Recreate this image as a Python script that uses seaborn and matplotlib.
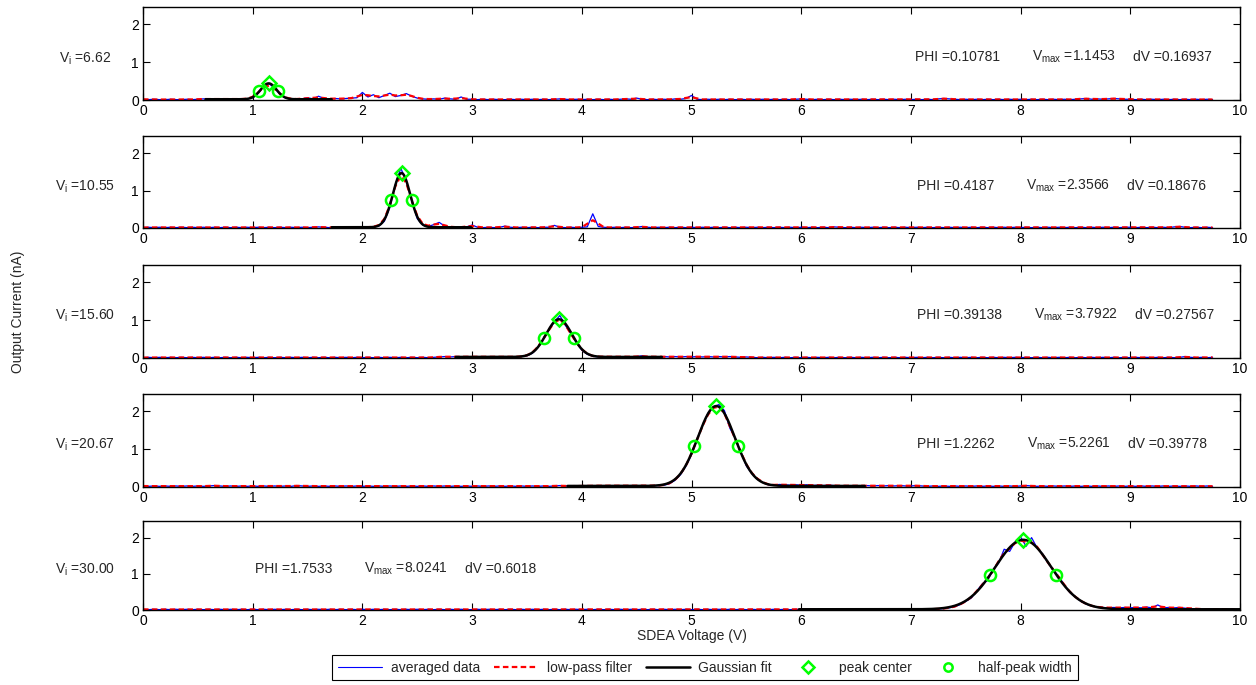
import numpy as np
import pandas as pd
import matplotlib
matplotlib.use("Agg")
import matplotlib.pyplot as plt
import matplotlib.transforms as mtransforms
from matplotlib.lines import Line2D
import seaborn as sns

# ---------------- data ----------------
V_STEP = 0.05  # sample spacing of the averaged data (V)

vi_values = [6.62, 10.55, 15.60, 20.67, 30.00]
phi_values = ["0.10781", "0.4187", "0.39138", "1.2262", "1.7533"]
vmax_values = [1.1453, 2.3566, 3.7922, 5.2261, 8.0241]
vmax_text = ["1.1453", "2.3566", "3.7922", "5.2261", "8.0241"]
dv_values = [0.16937, 0.18676, 0.27567, 0.39778, 0.6018]
dv_text = ["0.16937", "0.18676", "0.27567", "0.39778", "0.6018"]
fit_amplitude = [0.42, 1.45, 1.00, 2.12, 1.92]
fit_offset = [0.02, 0.02, 0.02, 0.02, 0.02]

avg_vi_6_62 = [
    .02, .01, .02, .01, .01, .02, .01, .01, .02, .01, .02, .03, .02, .03, .02, .03, .02, .03, .02, .03,
    .06, .19, .36, .43, .31, .14, .05, .03, .02, .03, .06, .03, .10, .04, .03, .04, .03, .04, .05, .06,
    .20, .08, .14, .06, .12, .18, .09, .12, .17, .10, .05, .03, .02, .03, .02, .05, .03, .02, .08, .02,
    .02, .01, .02, .01, .02, .01, .01, .02, .01, .02, .01, .02, .01, .02, .01, .02, .03, .02, .01, .02,
    .01, .02, .01, .02, .01, .02, .01, .02, .03, .02, .05, .02, .01, .02, .01, .02, .01, .03, .02, .04,
    .12, .02, .01, .02, .01, .02, .01, .02, .01, .02, .01, .02, .01, .02, .01, .02, .01, .02, .01, .02,
    .03, .02, .01, .02, .01, .02, .01, .02, .01, .02, .01, .02, .01, .02, .01, .02, .01, .02, .01, .02,
    .01, .02, .01, .02, .01, .03, .04, .03, .02, .01, .02, .01, .02, .01, .02, .01, .02, .01, .02, .01,
    .02, .01, .02, .01, .02, .01, .02, .01, .02, .01, .02, .03, .04, .02, .03, .02, .03, .04, .03, .02,
    .02, .01, .02, .01, .02, .01, .02, .01, .02, .01, .02, .01, .02, .01, .02, .01,
]
avg_vi_10_55 = [
    .01, .02, .01, .02, .01, .02, .01, .02, .01, .02, .01, .02, .01, .02, .01, .02, .01, .02, .01, .02,
    .01, .02, .01, .02, .01, .02, .01, .02, .01, .02, .01, .02, .03, .02, .01, .02, .01, .02, .01, .02,
    .02, .02, .03, .05, .18, .55, 1.15, 1.60, 1.25, .72, .25, .08, .04, .09, .15, .05, .03, .02, .02, .03,
    .08, .02, .01, .02, .01, .02, .05, .02, .01, .02, .01, .02, .01, .02, .02, .07, .02, .01, .02, .01,
    .02, .03, .38, .04, .02, .01, .02, .01, .02, .01, .02, .04, .02, .01, .02, .01, .02, .01, .02, .01,
    .02, .01, .02, .01, .02, .01, .02, .01, .02, .01, .02, .01, .02, .01, .02, .01, .02, .01, .02, .01,
    .02, .01, .02, .01, .02, .01, .03, .02, .01, .02, .01, .02, .01, .02, .01, .02, .01, .02, .01, .02,
    .01, .02, .01, .02, .01, .02, .01, .02, .01, .02, .01, .02, .01, .02, .01, .02, .01, .02, .01, .02,
    .01, .02, .01, .02, .01, .02, .01, .02, .01, .02, .01, .02, .01, .02, .01, .02, .01, .02, .01, .02,
    .02, .01, .02, .01, .02, .01, .02, .01, .03, .04, .02, .01, .02, .01, .02, .01,
]
avg_vi_15_60 = [
    .00, .01, .00, .01, .00, .01, .00, .01, .00, .01, .00, .01, .00, .01, .00, .01, .00, .01, .00, .01,
    .00, .01, .00, .01, .00, .01, .00, .01, .00, .01, .00, .01, .00, .01, .00, .01, .00, .01, .00, .01,
    .00, .01, .00, .01, .00, .01, .00, .01, .00, .01, .00, .01, .00, .01, .02, .03, .02, .03, .02, .03,
    .02, .03, .02, .03, .02, .02, .03, .02, .02, .03, .05, .12, .27, .50, .74, .95, 1.12, .86, .64, .40,
    .20, .09, .04, .02, .03, .02, .03, .02, .03, .02, .03, .05, .02, .03, .02, .03, .02, .03, .02, .03,
    .02, .03, .02, .03, .02, .03, .02, .03, .02, .01, .02, .01, .00, .01, .00, .01, .00, .01, .00, .01,
    .00, .01, .00, .01, .00, .01, .00, .01, .00, .01, .00, .01, .00, .01, .00, .01, .00, .01, .00, .01,
    .00, .01, .00, .01, .00, .01, .00, .01, .00, .01, .00, .01, .00, .01, .00, .01, .00, .01, .00, .01,
    .00, .01, .00, .01, .00, .01, .00, .01, .00, .01, .00, .01, .00, .01, .00, .01, .00, .01, .00, .01,
    .00, .01, .00, .01, .00, .01, .00, .01, .00, .01, .03, .01, .00, .01, .00, .01,
]
avg_vi_20_67 = [
    .02, .01, .02, .01, .02, .01, .02, .01, .02, .01, .02, .01, .02, .03, .02, .01, .02, .01, .02, .01,
    .02, .01, .02, .01, .02, .01, .02, .01, .03, .02, .01, .02, .01, .02, .01, .02, .01, .02, .01, .02,
    .01, .02, .01, .02, .01, .02, .01, .02, .01, .02, .01, .02, .01, .02, .01, .02, .01, .02, .01, .02,
    .01, .02, .01, .02, .01, .02, .01, .02, .01, .02, .01, .02, .01, .02, .01, .02, .03, .02, .01, .02,
    .02, .03, .02, .03, .02, .03, .02, .03, .02, .03, .02, .03, .02, .03, .03, .04, .08, .17, .32, .55,
    .85, 1.25, 1.62, 1.95, 2.12, 2.18, 2.02, 1.55, 1.28, .92, .55, .35, .20, .11, .05, .04, .06, .05, .04, .05,
    .04, .05, .03, .04, .03, .04, .03, .02, .03, .02, .03, .02, .03, .02, .03, .02, .03, .02, .03, .02,
    .02, .03, .02, .01, .02, .01, .02, .01, .02, .01, .02, .01, .02, .01, .02, .01, .02, .01, .02, .01,
    .02, .03, .02, .01, .02, .01, .02, .01, .02, .01, .02, .01, .02, .01, .02, .01, .02, .01, .02, .01,
    .02, .01, .02, .01, .02, .01, .02, .01, .02, .01, .02, .01, .02, .01, .02, .01,
]
avg_vi_30_00 = [
    .02, .01, .02, .01, .02, .01, .02, .01, .02, .01, .02, .01, .02, .01, .02, .01, .02, .01, .02, .01,
    .02, .01, .02, .01, .02, .01, .02, .01, .02, .01, .02, .01, .02, .01, .02, .01, .02, .01, .02, .01,
    .02, .01, .02, .01, .02, .01, .02, .01, .02, .01, .02, .01, .02, .01, .02, .01, .02, .01, .02, .01,
    .01, .02, .01, .02, .01, .02, .01, .02, .01, .02, .01, .02, .01, .02, .01, .02, .01, .02, .01, .02,
    .01, .02, .01, .02, .01, .02, .01, .02, .01, .02, .01, .02, .01, .02, .01, .02, .01, .02, .01, .02,
    .01, .02, .01, .02, .01, .02, .01, .02, .01, .02, .01, .02, .01, .02, .01, .02, .01, .02, .01, .02,
    .01, .02, .01, .02, .01, .02, .01, .02, .01, .02, .01, .02, .01, .02, .01, .02, .01, .02, .01, .02,
    .01, .02, .01, .02, .02, .03, .04, .06, .09, .15, .24, .33, .52, .72, .82, 1.12, 1.30, 1.68, 1.62, 1.88,
    2.02, 1.76, 2.00, 1.72, 1.55, 1.30, 1.10, .92, .68, .48, .36, .24, .16, .11, .08, .07, .06, .07, .06, .07,
    .06, .07, .06, .08, .06, .14, .06, .07, .06, .07, .05, .04, .03, .02, .03, .02, .02, .02, .02, .02,
]
averaged_data = [avg_vi_6_62, avg_vi_10_55, avg_vi_15_60, avg_vi_20_67, avg_vi_30_00]

# ---------------- layout / style ----------------
FIG_W, FIG_H = 1256, 685
AX_LEFT, AX_RIGHT = 143, 1240
AX_TOPS = [7, 136, 265, 394, 521]
AX_BOTTOMS = [100, 228, 357.7, 486.7, 610]
PHI_X_PX = [915, 917, 917, 917, 255]
GAP1_PX, GAP2_PX = 32, 17
TEXT_Y = 1.13
GREEN = "#00ff00"

sns.set_theme(style="ticks")
plt.rcParams["font.family"] = ["Liberation Sans", "DejaVu Sans"]
plt.rcParams["mathtext.fontset"] = "custom"
plt.rcParams["mathtext.rm"] = "Liberation Sans"
plt.rcParams["mathtext.it"] = "Liberation Sans:italic"

fig = plt.figure(figsize=(FIG_W / 100, FIG_H / 100), dpi=100)
fig.patch.set_facecolor("white")
renderer = fig.canvas.get_renderer()


def px_to_x(px):
    return (px - AX_LEFT) / (AX_RIGHT - AX_LEFT) * 10.0


for i in range(5):
    top, bot = AX_TOPS[i], AX_BOTTOMS[i]
    ax = fig.add_axes([AX_LEFT / FIG_W, 1 - bot / FIG_H,
                       (AX_RIGHT - AX_LEFT) / FIG_W, (bot - top) / FIG_H])
    ax.set_facecolor("white")
    vals = np.array(averaged_data[i], dtype=float)
    xs = np.arange(len(vals)) * V_STEP
    # low-pass filter derived from the averaged data
    lp = np.convolve(np.pad(vals, 1, mode="edge"), [0.25, 0.5, 0.25], mode="valid")

    # Gaussian fit from the fit parameters (center = Vmax, FWHM = dV)
    c, w, a, off = vmax_values[i], dv_values[i], fit_amplitude[i], fit_offset[i]
    xf = np.arange(round((c - 3.4 * w) * 100), round((c + 3.4 * w) * 100) + 1) / 100.0
    yf = a * np.exp(-4 * np.log(2) * (xf - c) ** 2 / w ** 2) + off

    df = pd.DataFrame({"V": xs, "avg": vals, "lp": lp})
    sns.lineplot(data=df, x="V", y="avg", ax=ax, color="#0000ff", lw=0.9,
                 estimator=None, sort=False, legend=False)
    sns.lineplot(data=df, x="V", y="lp", ax=ax, color="#ff0000", lw=1.6,
                 estimator=None, sort=False, legend=False)
    ax.lines[-1].set_dashes([2.5, 1.5])
    sns.lineplot(x=xf, y=yf, ax=ax, color="black", lw=1.8,
                 estimator=None, sort=False, legend=False)
    pk = pd.DataFrame({"V": [c], "I": [a + off]})
    hw = pd.DataFrame({"V": [c - w / 2, c + w / 2], "I": [a / 2 + off, a / 2 + off]})
    ax.plot(hw["V"], hw["I"], linestyle="none", marker="o", ms=8, mfc="none",
            mec=GREEN, mew=1.8, zorder=5)
    ax.plot(pk["V"], pk["I"], linestyle="none", marker="D", ms=7, mfc="none",
            mec=GREEN, mew=1.8, zorder=5)

    ax.set_xlim(0, 10)
    ax.set_ylim(0, 2.46)
    ax.set_xticks(range(0, 11))
    ax.set_yticks([0, 1, 2])
    ax.set_xlabel("")
    ax.set_ylabel("")
    ax.tick_params(direction="in", top=True, right=True, length=5, width=0.8,
                   labelsize=10, colors="black", pad=3)
    for s in ax.spines.values():
        s.set_visible(True)
        s.set_color("black")
        s.set_linewidth(1.0)

    # V_i label
    tr = mtransforms.blended_transform_factory(fig.transFigure, ax.transData)
    ax.text(85 / FIG_W, 1.1, r"$\mathrm{V_i}$ =" + f"{vi_values[i]:.2f}",
            transform=tr, ha="center", va="center", fontsize=10)

    # fit annotation, laid out left to right
    t1 = ax.text(px_to_x(PHI_X_PX[i]), TEXT_Y, "PHI =" + phi_values[i], fontsize=10,
                 ha="left", va="center")
    e1 = t1.get_window_extent(renderer)
    t2 = ax.text(px_to_x(e1.x1 + GAP1_PX), TEXT_Y, r"$\mathrm{V_{max}}$ =" + vmax_text[i],
                 fontsize=10, ha="left", va="center")
    e2 = t2.get_window_extent(renderer)
    ax.text(px_to_x(e2.x1 + GAP2_PX), TEXT_Y, "dV =" + dv_text[i], fontsize=10,
            ha="left", va="center")

fig.text((AX_LEFT + AX_RIGHT) / 2 / FIG_W, 1 - 636 / FIG_H, "SDEA Voltage (V)",
         ha="center", va="center", fontsize=10)
fig.text(18 / FIG_W, 1 - 312 / FIG_H, "Output Current (nA)", rotation=90,
         ha="center", va="center", fontsize=10)

handles = [
    Line2D([], [], color="#0000ff", lw=0.8),
    Line2D([], [], color="#ff0000", lw=1.6, dashes=[2.5, 1.5]),
    Line2D([], [], color="black", lw=1.8),
    Line2D([], [], linestyle="none", marker="D", ms=6, mfc="none", mec=GREEN, mew=1.8),
    Line2D([], [], linestyle="none", marker="o", ms=6, mfc="none", mec=GREEN, mew=1.8),
]
labels = ["averaged data", "low-pass filter", "Gaussian fit", "peak center", "half-peak width"]
leg = fig.legend(handles, labels, loc="upper center",
                 bbox_to_anchor=(705 / FIG_W, 1 - 655 / FIG_H), ncol=5,
                 frameon=True, fancybox=False, edgecolor="black", framealpha=1,
                 handlelength=3.2, columnspacing=1.0, handletextpad=0.6,
                 fontsize=10, borderaxespad=0, borderpad=0.4)
leg.get_frame().set_linewidth(0.8)

fig.savefig("out.png", dpi=100, facecolor="white")
